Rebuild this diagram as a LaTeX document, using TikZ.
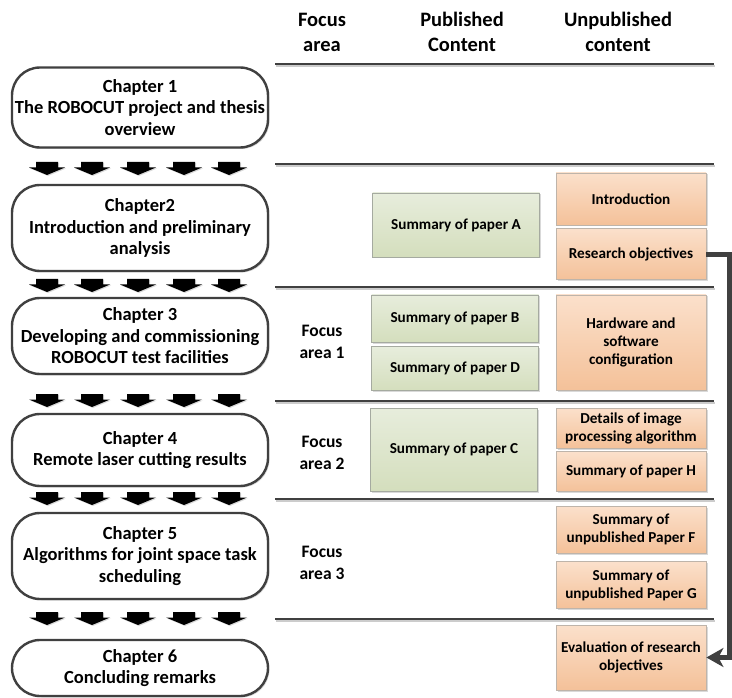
\documentclass[tikz,border=0pt]{standalone}
\usepackage{fontspec}
\setmainfont{Carlito}
\usetikzlibrary{positioning}
\usetikzlibrary{arrows.meta}
\usetikzlibrary{shadows}
\definecolor{chapline}{RGB}{64,64,64}
\definecolor{greentop}{RGB}{231,237,220}
\definecolor{greenbot}{RGB}{212,222,189}
\definecolor{greenline}{RGB}{165,170,160}
\definecolor{orangetop}{RGB}{251,224,203}
\definecolor{orangebot}{RGB}{244,193,153}
\definecolor{orangeline}{RGB}{190,180,170}
\tikzset{
  softshadow/.style={drop shadow={shadow xshift=1.5pt,shadow yshift=-1.5pt,opacity=0.3,fill=gray}},
  colhead/.style={align=center, inner sep=0pt, font=\fontsize{20.5}{25}\selectfont\bfseries},
  focustext/.style={align=center, inner sep=0pt, font=\fontsize{17.5}{22}\selectfont\bfseries},
  chapbox/.style={draw=chapline, line width=2.4pt, rounded corners=28pt, fill=white, softshadow,
    minimum width=256pt, inner sep=0pt, align=center, font=\fontsize{18.5}{21.5}\selectfont\bfseries},
  pubbox/.style={draw=greenline, line width=0.8pt, top color=greentop, bottom color=greenbot, softshadow,
    minimum width=167pt, inner sep=2pt, align=center, font=\fontsize{15.2}{18}\selectfont\bfseries},
  unpubbox/.style={draw=orangeline, line width=0.8pt, top color=orangetop, bottom color=orangebot, softshadow,
    minimum width=150pt, inner sep=2pt, align=center, font=\fontsize{15.2}{18}\selectfont\bfseries},
  rowline/.style={draw=chapline, line width=1.8pt},
  rowshade/.style={draw=black!20, line width=1.5pt},
  blockarrow/.style={fill=black, drop shadow={shadow xshift=1pt,shadow yshift=-1pt,opacity=0.3,fill=gray}},
  linkline/.style={draw=chapline, line width=5pt, -{Stealth[length=17pt,width=19pt,inset=5pt]}}
}
\begin{document}
\begin{tikzpicture}[x=1pt,y=-1pt]
	\useasboundingbox (0,0) rectangle (732,698);
	
	\node[colhead] at (322,32) (hfocus) {Focus\\area};
	\node[colhead] at (462,32) (hpub) {Published\\Content};
	\node[colhead] at (618,32) (hunpub) {Unpublished\\content};
	\foreach \ly in {64,164,287,401,499,619} {
		\draw[rowshade] (276,\ly+1.8) -- (715,\ly+1.8);
		\draw[rowline] (275,\ly) -- (714,\ly);
	}
	
	\node[chapbox, minimum height=80pt] at (140,107.5) (ch1) {Chapter 1\\The ROBOCUT project and thesis\\overview};
	\node[chapbox, minimum height=86pt] at (140,228) (ch2) {Chapter2\\Introduction and preliminary\\analysis};
	\node[chapbox, minimum height=76pt] at (140,336) (ch3) {Chapter 3\\Developing and commissioning\\ROBOCUT test facilities};
	\node[chapbox, minimum height=72pt] at (140,450) (ch4) {Chapter 4\\Remote laser cutting results};
	\node[chapbox, minimum height=86pt] at (140,556) (ch5) {Chapter 5\\Algorithms for joint space task\\scheduling};
	\node[chapbox, minimum height=56pt] at (140,668) (ch6) {Chapter 6\\Concluding remarks};
	\foreach \ay in {162,279,394,492,612}
		\foreach \ax in {47,92,138,184,229}
			\fill[blockarrow] (\ax-11,\ay) -- (\ax+11,\ay) -- (\ax+11,\ay+5.5) -- (\ax+18,\ay+5.5) -- (\ax,\ay+13) -- (\ax-18,\ay+5.5) -- (\ax-11,\ay+5.5) -- cycle;
	
	\node[focustext] at (322,342) (fa1) {Focus\\area 1};
	\node[focustext] at (322,453) (fa2) {Focus\\area 2};
	\node[focustext] at (322,563) (fa3) {Focus\\area 3};
	
	\node[pubbox, minimum height=64pt] at (456,225) (papA) {Summary of paper A};
	\node[pubbox, minimum height=47pt] at (455,318.5) (papB) {Summary of paper B};
	\node[pubbox, minimum height=44pt, below=4pt of papB] (papD) {Summary of paper D};
	\node[pubbox, minimum height=83pt] at (454,449.5) (papC) {Summary of paper C};
	
	\node[unpubbox, minimum height=52pt] at (631,199) (intro) {Introduction};
	\node[unpubbox, minimum height=51pt, below=3pt of intro] (resobj) {Research objectives};
	\node[unpubbox, minimum height=95pt] at (631,342.5) (hwsw) {Hardware and\\software\\configuration};
	\node[unpubbox, minimum height=40pt] at (631,428) (imgproc) {Details of image\\processing algorithm};
	\node[unpubbox, minimum height=40pt, below=3pt of imgproc] (papH) {Summary of paper H};
	\node[unpubbox, minimum height=47pt] at (631,529.5) (papF) {Summary of\\unpublished Paper F};
	\node[unpubbox, minimum height=47pt, below=8pt of papF] (papG) {Summary of\\unpublished Paper G};
	\node[unpubbox, minimum height=65pt] at (631,657.5) (evalobj) {Evaluation of research\\objectives};
	\draw[linkline] (resobj.east) -- ++(23,0) |- (evalobj.east);
\end{tikzpicture}
\end{document}
